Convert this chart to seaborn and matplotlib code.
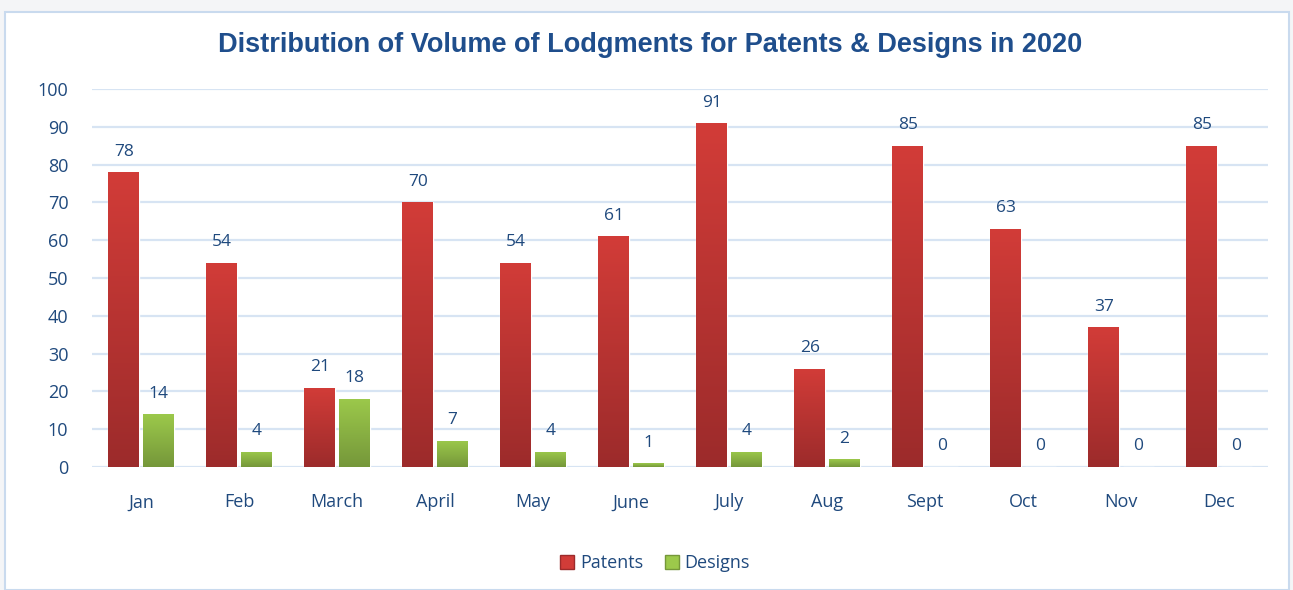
import pandas as pd
import seaborn as sns
import matplotlib.pyplot as plt
import numpy as np
from matplotlib.colors import LinearSegmentedColormap
from matplotlib.patches import Rectangle, Patch

# Data
months = ['Jan', 'Feb', 'March', 'April', 'May', 'June', 'July', 'Aug', 'Sept', 'Oct', 'Nov', 'Dec']
patents = [78, 54, 21, 70, 54, 61, 91, 26, 85, 63, 37, 85]
designs = [14, 4, 18, 7, 4, 1, 4, 2, 0, 0, 0, 0]

df = pd.DataFrame({'month': months * 2,
                   'count': patents + designs,
                   'type': ['Patents'] * len(months) + ['Designs'] * len(months)})

sns.set_style('white')
plt.rcParams['font.family'] = ['Open Sans', 'DejaVu Sans']

text_col = '#1F497D'
grid_col = '#D7E4F3'
red_top, red_bot = '#D23C38', '#9C2B2B'
green_top, green_bot = '#9CC94B', '#75973A'

fig = plt.figure(figsize=(12.93, 5.90), dpi=100)
fig.patch.set_facecolor('#F4F5F7')
# white chart panel with thin blue border (behind the axes)
fig.patches.append(Rectangle((5 / 1293, 0), 1284 / 1293, 578 / 590, transform=fig.transFigure,
                             facecolor='white', edgecolor='#C9DAEE', linewidth=1.5, zorder=-5))

ax = fig.add_axes([92 / 1293, 123 / 590, 1176 / 1293, 378 / 590])
ax.set_facecolor('none')

sns.barplot(data=df, x='month', y='count', hue='type', palette=[red_top, green_top],
            width=0.7, gap=0.1, legend=False, ax=ax, zorder=3)

# gradient fill, clipped to each bar
for p, top, bot in zip(ax.patches, [red_top] * 12 + [green_top] * 12, [red_bot] * 12 + [green_bot] * 12):
    x0, y0 = p.get_x(), p.get_y()
    w, h = p.get_width(), p.get_height()
    if h <= 0:
        continue
    cmap = LinearSegmentedColormap.from_list('g', [bot, top])
    grad = np.linspace(0, 1, 256).reshape(-1, 1)
    im = ax.imshow(grad, cmap=cmap, origin='lower', aspect='auto',
                   extent=[x0, x0 + w, y0, y0 + h], zorder=4)
    im.set_clip_path(p)

for c in ax.containers:
    ax.bar_label(c, padding=9, fontsize=12.5, color=text_col)

ax.set_xlim(-0.5, 11.5)
ax.set_ylim(0, 100)
ax.set_yticks(range(0, 101, 10))
ax.yaxis.grid(True, color=grid_col, linewidth=1.6, zorder=0)
ax.set_axisbelow(True)
for s in ax.spines.values():
    s.set_visible(False)
ax.tick_params(axis='y', length=0, pad=17, labelsize=13, labelcolor=text_col)
ax.tick_params(axis='x', length=0, pad=19, labelsize=13, labelcolor=text_col)
ax.set_xlabel('')
ax.set_ylabel('')

fig.text(650 / 1293, 545 / 590, 'Distribution of Volume of Lodgments for Patents & Designs in 2020',
         ha='center', va='center', fontsize=19.5, fontweight='bold', color='#1F4E8C',
         family=['Liberation Sans', 'DejaVu Sans'])

handles = [Patch(facecolor=red_top, edgecolor=red_bot), Patch(facecolor=green_top, edgecolor=green_bot)]
fig.legend(handles, ['Patents', 'Designs'], loc='center', bbox_to_anchor=(655 / 1293, 27 / 590),
           ncol=2, frameon=False, fontsize=13, labelcolor=text_col,
           handlelength=0.8, handleheight=0.8, handletextpad=0.3, columnspacing=1.2)

fig.savefig('out.png', dpi=100)
